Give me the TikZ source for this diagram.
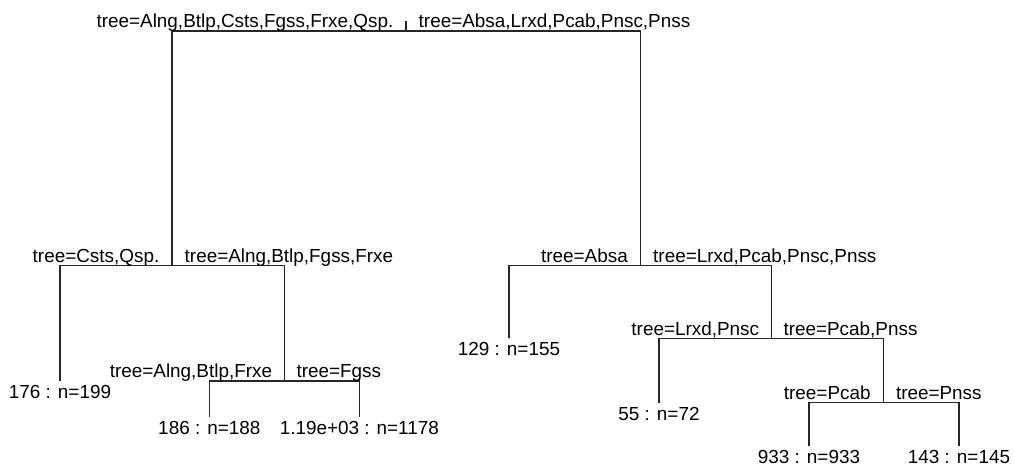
\documentclass[tikz,border=0pt]{standalone}
\usepackage{fontspec}
\setmainfont{Liberation Sans}
\begin{document}
\begin{tikzpicture}[x=1pt,y=-1pt,
  branch/.style={draw=black!85,line width=1.2pt},
  splitl/.style={anchor=base east,inner sep=0pt,font=\fontsize{18.9}{22}\selectfont},
  splitr/.style={anchor=base west,inner sep=0pt,font=\fontsize{18.9}{22}\selectfont},
  leaflab/.style={anchor=base,inner sep=0pt,font=\fontsize{18.9}{22}\selectfont}]
\useasboundingbox (0,0) rectangle (1014,469);
% tree positions
\coordinate (root) at (406,31);
\coordinate (rtop) at (406,21);
\coordinate (L) at (172,265.7);
\coordinate (R) at (640.5,265.7);
\coordinate (LL) at (60,380.7);
\coordinate (LR) at (284.3,381);
\coordinate (LRL) at (209.3,417.3);
\coordinate (LRR) at (359.3,417.3);
\coordinate (RL) at (509,338.3);
\coordinate (RR) at (771.3,338.5);
\coordinate (RRL) at (659,403.3);
\coordinate (RRR) at (883.3,402.7);
\coordinate (RRRL) at (809,446);
\coordinate (RRRR) at (959,446);
% branches
\draw[branch] (rtop) -- (root);
\draw[branch] (L) -- (L|-root) -- (R|-root) -- (R);
\draw[branch] (LL) -- (LL|-L) -- (LR|-L) -- (LR);
\draw[branch] (LRL) -- (LRL|-LR) -- (LRR|-LR) -- (LRR);
\draw[branch] (RL) -- (RL|-R) -- (RR|-R) -- (RR);
\draw[branch] (RRL) -- (RRL|-RR) -- (RRR|-RR) -- (RRR);
\draw[branch] (RRRL) -- (RRRL|-RRR) -- (RRRR|-RRR) -- (RRRR);
% split labels
\node[splitl] (sroot1) at ([xshift=-12.5pt,yshift=4pt]root) {tree=Alng,Btlp,Csts,Fgss,Frxe,Qsp.};
\node[splitr] (sroot2) at ([xshift=12.5pt,yshift=4pt]root) {tree=Absa,Lrxd,Pcab,Pnsc,Pnss};
\node[splitl] (sL1) at ([xshift=-12.5pt,yshift=3.5pt]L) {tree=Csts,Qsp.};
\node[splitr] (sL2) at ([xshift=12.5pt,yshift=3.5pt]L) {tree=Alng,Btlp,Fgss,Frxe};
\node[splitl] (sLR1) at ([xshift=-12pt,yshift=3.5pt]LR) {tree=Alng,Btlp,Frxe};
\node[splitr] (sLR2) at ([xshift=12pt,yshift=3.5pt]LR) {tree=Fgss};
\node[splitl] (sR1) at ([xshift=-12.5pt,yshift=3.5pt]R) {tree=Absa};
\node[splitr] (sR2) at ([xshift=12.5pt,yshift=3.5pt]R) {tree=Lrxd,Pcab,Pnsc,Pnss};
\node[splitl] (sRR1) at ([xshift=-12pt,yshift=3.5pt]RR) {tree=Lrxd,Pnsc};
\node[splitr] (sRR2) at ([xshift=12pt,yshift=3.5pt]RR) {tree=Pcab,Pnss};
\node[splitl] (sRRR1) at ([xshift=-12.5pt,yshift=3.5pt]RRR) {tree=Pcab};
\node[splitr] (sRRR2) at ([xshift=12.5pt,yshift=3.5pt]RRR) {tree=Pnss};
% leaf labels
\node[leaflab] (tLL) at ([yshift=-17.6pt]LL) {176 : n=199};
\node[leaflab] (tLRL) at ([yshift=-17.6pt]LRL) {186 : n=188};
\node[leaflab] (tLRR) at ([yshift=-17.6pt]LRR) {1.19e+03 : n=1178};
\node[leaflab] (tRL) at ([yshift=-17.6pt]RL) {129 : n=155};
\node[leaflab] (tRRL) at ([yshift=-17.6pt]RRL) {55 : n=72};
\node[leaflab] (tRRRL) at ([yshift=-17.6pt]RRRL) {933 : n=933};
\node[leaflab] (tRRRR) at ([yshift=-17.6pt]RRRR) {143 : n=145};
\end{tikzpicture}
\end{document}
